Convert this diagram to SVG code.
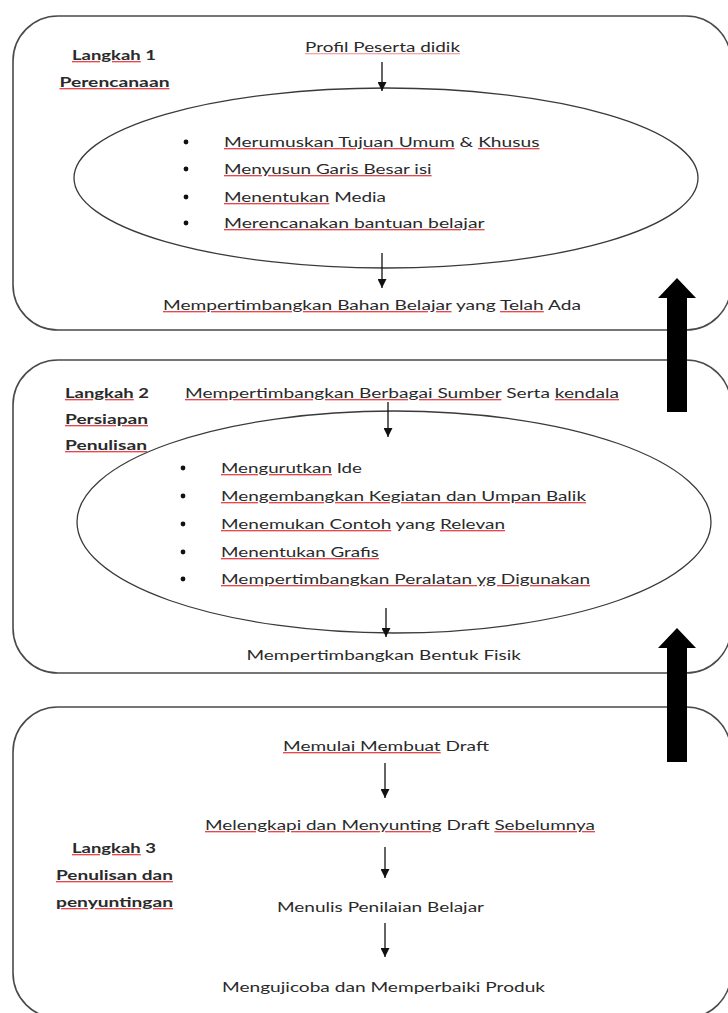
<svg xmlns="http://www.w3.org/2000/svg" width="728" height="1013" viewBox="0 0 728 1013">
<style>
  .box { fill: none; stroke: #4a4a4a; stroke-width: 1.6; }
  .ell { fill: none; stroke: #3a3a3a; stroke-width: 1.3; }
  .t { font-family: Lato, "Liberation Sans", sans-serif; font-size: 13.5px; fill: #2a2a2a; }
  .b { font-weight: bold; }
  .sq { fill: #e8474c; text-decoration: underline; text-decoration-thickness: 1px; text-underline-offset: 3px; }
  .sql { fill: #f2a9ab; text-decoration: underline; text-decoration-thickness: 1px; text-underline-offset: 3px; }
  .sq > tspan, .sql > tspan { fill: #2a2a2a; }
  .con { stroke: #111; stroke-width: 1.3; fill: none; }
  .dot { fill: #111; }
  .big { fill: #000; }
</style>
<defs>
  <marker id="ah" viewBox="0 0 10 10" refX="10" refY="5" markerWidth="9" markerHeight="9" markerUnits="userSpaceOnUse" orient="auto">
    <path d="M0,0 L10,5 L0,10 Z" fill="#111"/>
  </marker>
</defs>
<rect width="728" height="1013" fill="#fff"/>

<g id="langkah1">
  <rect class="box" x="13" y="16" width="718" height="314" rx="45" ry="45"/>
  <text class="t b" x="72" y="60" textLength="84" lengthAdjust="spacingAndGlyphs"><tspan class="sq"><tspan>Langkah</tspan></tspan> 1</text>
  <text class="t b" x="59.5" y="87" textLength="110" lengthAdjust="spacingAndGlyphs"><tspan class="sq"><tspan>Perencanaan</tspan></tspan></text>
  <text class="t" x="305" y="52" textLength="155" lengthAdjust="spacingAndGlyphs"><tspan class="sql"><tspan>Profil Peserta didik</tspan></tspan></text>
  <ellipse class="ell" cx="386" cy="178" rx="312" ry="90"/>
  <circle class="dot" cx="186" cy="142" r="2.4"/>
  <circle class="dot" cx="186" cy="169" r="2.4"/>
  <circle class="dot" cx="186" cy="197" r="2.4"/>
  <circle class="dot" cx="186" cy="223" r="2.4"/>
  <text class="t" x="224" y="147" textLength="315.5" lengthAdjust="spacingAndGlyphs"><tspan class="sq"><tspan>Merumuskan Tujuan Umum</tspan></tspan> &amp; <tspan class="sq"><tspan>Khusus</tspan></tspan></text>
  <text class="t" x="224" y="174" textLength="207.6" lengthAdjust="spacingAndGlyphs"><tspan class="sq"><tspan>Menyusun Garis Besar isi</tspan></tspan></text>
  <text class="t" x="224" y="202" textLength="162" lengthAdjust="spacingAndGlyphs"><tspan class="sq"><tspan>Menentukan</tspan></tspan> Media</text>
  <text class="t" x="224" y="228" textLength="260.6" lengthAdjust="spacingAndGlyphs"><tspan class="sq"><tspan>Merencanakan bantuan belajar</tspan></tspan></text>
  <text class="t" x="163" y="310" textLength="418" lengthAdjust="spacingAndGlyphs"><tspan class="sq"><tspan>Mempertimbangkan Bahan Belajar</tspan></tspan> yang <tspan class="sq"><tspan>Telah</tspan></tspan> Ada</text>
</g>

<g id="langkah2">
  <rect class="box" x="13" y="360" width="718" height="313" rx="45" ry="45"/>
  <text class="t b" x="65" y="398" textLength="84" lengthAdjust="spacingAndGlyphs"><tspan class="sq"><tspan>Langkah</tspan></tspan> 2</text>
  <text class="t b" x="65" y="424" textLength="83" lengthAdjust="spacingAndGlyphs"><tspan class="sq"><tspan>Persiapan</tspan></tspan></text>
  <text class="t b" x="65" y="450" textLength="82" lengthAdjust="spacingAndGlyphs"><tspan class="sq"><tspan>Penulisan</tspan></tspan></text>
  <text class="t" x="185" y="398" textLength="434" lengthAdjust="spacingAndGlyphs"><tspan class="sq"><tspan>Mempertimbangkan Berbagai Sumber</tspan></tspan> Serta <tspan class="sq"><tspan>kendala</tspan></tspan></text>
  <ellipse class="ell" cx="394" cy="522" rx="317" ry="111"/>
  <circle class="dot" cx="183" cy="468" r="2.4"/>
  <circle class="dot" cx="183" cy="496" r="2.4"/>
  <circle class="dot" cx="183" cy="524" r="2.4"/>
  <circle class="dot" cx="183" cy="552" r="2.4"/>
  <circle class="dot" cx="183" cy="579" r="2.4"/>
  <text class="t" x="221" y="473" textLength="141" lengthAdjust="spacingAndGlyphs"><tspan class="sq"><tspan>Mengurutkan</tspan></tspan> Ide</text>
  <text class="t" x="221" y="501" textLength="365" lengthAdjust="spacingAndGlyphs"><tspan class="sq"><tspan>Mengembangkan Kegiatan dan Umpan Balik</tspan></tspan></text>
  <text class="t" x="221" y="529" textLength="284" lengthAdjust="spacingAndGlyphs"><tspan class="sq"><tspan>Menemukan Contoh</tspan></tspan> yang <tspan class="sq"><tspan>Relevan</tspan></tspan></text>
  <text class="t" x="221" y="557" textLength="158" lengthAdjust="spacingAndGlyphs"><tspan class="sq"><tspan>Menentukan Grafis</tspan></tspan></text>
  <text class="t" x="221" y="584" textLength="369" lengthAdjust="spacingAndGlyphs"><tspan class="sq"><tspan>Mempertimbangkan Peralatan yg Digunakan</tspan></tspan></text>
  <text class="t" x="246.5" y="660" textLength="274.5" lengthAdjust="spacingAndGlyphs">Mempertimbangkan Bentuk Fisik</text>
</g>

<g id="langkah3">
  <rect class="box" x="13" y="707" width="718" height="311" rx="45" ry="45"/>
  <text class="t b" x="72" y="853" textLength="84" lengthAdjust="spacingAndGlyphs"><tspan class="sq"><tspan>Langkah</tspan></tspan> 3</text>
  <text class="t b" x="56" y="880" textLength="117" lengthAdjust="spacingAndGlyphs"><tspan class="sq"><tspan>Penulisan dan</tspan></tspan></text>
  <text class="t b" x="56" y="907" textLength="117" lengthAdjust="spacingAndGlyphs"><tspan class="sq"><tspan>penyuntingan</tspan></tspan></text>
  <text class="t" x="283" y="751" textLength="206" lengthAdjust="spacingAndGlyphs"><tspan class="sq"><tspan>Memulai Membuat</tspan></tspan> Draft</text>
  <text class="t" x="205" y="830" textLength="390" lengthAdjust="spacingAndGlyphs"><tspan class="sq"><tspan>Melengkapi dan Menyunting</tspan></tspan> Draft <tspan class="sq"><tspan>Sebelumnya</tspan></tspan></text>
  <text class="t" x="277" y="912" textLength="207" lengthAdjust="spacingAndGlyphs">Menulis Penilaian Belajar</text>
  <text class="t" x="222" y="992" textLength="323" lengthAdjust="spacingAndGlyphs">Mengujicoba dan Memperbaiki Produk</text>
</g>

<g id="connectors">
  <line class="con" x1="382" y1="62" x2="382" y2="91" marker-end="url(#ah)"/>
  <line class="con" x1="382" y1="253" x2="382" y2="288" marker-end="url(#ah)"/>
  <line class="con" x1="388" y1="402" x2="388" y2="437" marker-end="url(#ah)"/>
  <line class="con" x1="386" y1="608" x2="386" y2="637" marker-end="url(#ah)"/>
  <line class="con" x1="385" y1="763" x2="385" y2="798" marker-end="url(#ah)"/>
  <line class="con" x1="385" y1="847" x2="385" y2="878" marker-end="url(#ah)"/>
  <line class="con" x1="385" y1="923" x2="385" y2="957" marker-end="url(#ah)"/>
  <path class="big" d="M667,412 L667,298 L658,298 L677,278 L696,298 L687,298 L687,412 Z"/>
  <path class="big" d="M667,762 L667,648 L658,648 L677,628 L696,648 L687,648 L687,762 Z"/>
</g>
</svg>
